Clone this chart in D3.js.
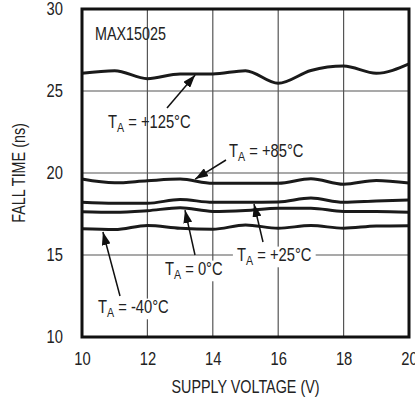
<!DOCTYPE html>
<html><head><meta charset="utf-8">
<script src="https://cdn.jsdelivr.net/npm/d3@7"></script>
<style>
body{margin:0;background:#fff;}
text{font-family:"Liberation Sans",Arial,sans-serif;fill:#222;}
</style></head><body>
<script>
const voltage = [10,11,12,13,14,15,16,17,18,19,20];
const t125 = [26.08,26.24,25.75,26.04,26.04,26.24,25.47,26.25,26.52,26.08,26.65];
const t85  = [19.63,19.4,19.53,19.63,19.37,19.37,19.37,19.65,19.31,19.55,19.39];
const t25  = [18.21,18.15,18.15,18.39,18.21,18.21,18.23,18.47,18.21,18.29,18.35];
const t0   = [17.64,17.6,17.7,17.88,17.66,17.72,17.85,17.85,17.66,17.66,17.6];
const tm40 = [16.6,16.55,16.8,16.63,16.57,16.83,16.63,16.8,16.63,16.77,16.79];
const xTicks = [10,12,14,16,18,20];
const yTicks = [10,15,20,25,30];
const seriesNames = ["+125°C","+85°C","+25°C","0°C","-40°C"];
const seriesValues = [t125,t85,t25,t0,tm40];

const S=0.82; // horizontal squeeze to imitate a condensed face
function squeeze(sel){
 sel.each(function(){
  const e=d3.select(this);
  const px=+e.attr("x")||0, py=+e.attr("y")||0;
  e.attr("transform",`translate(${px},${py}) scale(${S},1) translate(${-px},${-py})`);
 });
}

const W=415,H=400, m={l:82,t:9,r:6,b:63};
const svg=d3.select("body").append("svg").attr("width",W).attr("height",H);
const x=d3.scaleLinear().domain([10,20]).range([m.l,W-m.r]);
const y=d3.scaleLinear().domain([10,30]).range([H-m.b,m.t]);

const grid=svg.append("g");
grid.selectAll("line.v").data(xTicks.slice(1,-1)).join("line").attr("class","v")
 .attr("x1",d=>x(d)).attr("x2",d=>x(d)).attr("y1",y(30)).attr("y2",y(10))
 .attr("stroke","#555").attr("stroke-width",1.2);
grid.selectAll("line.h").data(yTicks.slice(1,-1)).join("line").attr("class","h")
 .attr("y1",d=>y(d)).attr("y2",d=>y(d)).attr("x1",x(10)).attr("x2",x(20))
 .attr("stroke","#555").attr("stroke-width",1.2);

const xAxis=d3.axisBottom(x).tickValues(xTicks).tickSize(0).tickPadding(15);
const gx=svg.append("g").attr("transform",`translate(0,${y(10)})`).call(xAxis);
gx.select(".domain").remove();
gx.selectAll("text").attr("font-size",18).style("font-family",'"Liberation Sans",Arial,sans-serif').attr("fill","#222").call(squeeze);
const yAxis=d3.axisLeft(y).tickValues(yTicks).tickSize(0).tickPadding(19);
const gy=svg.append("g").attr("transform",`translate(${x(10)},0)`).call(yAxis);
gy.select(".domain").remove();
gy.selectAll("text").attr("font-size",18).style("font-family",'"Liberation Sans",Arial,sans-serif').attr("fill","#222").call(squeeze);

svg.append("text").attr("x",(x(10)+x(20))/2).attr("y",393).attr("text-anchor","middle")
 .attr("font-size",17.5).text("SUPPLY VOLTAGE (V)").call(squeeze);
svg.append("text").attr("transform",`translate(25,${(y(10)+y(30))/2}) rotate(-90) scale(${S},1)`).attr("text-anchor","middle")
 .attr("font-size",17.5).text("FALL TIME (ns)");

const labels=svg.append("g");

const line=d3.line().x((d,i)=>x(voltage[i])).y(d=>y(d)).curve(d3.curveMonotoneX);
svg.append("g").selectAll("path").data(seriesValues).join("path")
 .attr("d",line).attr("fill","none").attr("stroke","#1a1a1a").attr("stroke-width",3);

svg.append("rect").attr("x",x(10)).attr("y",y(30)).attr("width",x(20)-x(10)).attr("height",y(10)-y(30))
 .attr("fill","none").attr("stroke","#111").attr("stroke-width",3);

svg.append("text").attr("x",95).attr("y",40).attr("font-size",17.5).text("MAX15025").call(squeeze);

svg.append("defs").append("marker").attr("id","ah").attr("viewBox","0 0 13 9").attr("refX",13).attr("refY",4.5)
 .attr("markerWidth",13).attr("markerHeight",9).attr("markerUnits","userSpaceOnUse").attr("orient","auto")
 .append("path").attr("d","M0,0 L13,4.5 L0,9 z").attr("fill","#111");
const arrows=[
 {from:[167,108], to:[13.46,25.98]},
 {from:[226,160], to:[13.46,19.63]},
 {from:[263,242], to:[15.26,18.11]},
 {from:[195,255], to:[13.15,17.74]},
 {from:[120,296], to:[10.64,16.4]}
];
svg.append("g").selectAll("line").data(arrows).join("line")
 .attr("x1",d=>d.from[0]).attr("y1",d=>d.from[1]).attr("x2",d=>x(d.to[0])).attr("y2",d=>y(d.to[1]))
 .attr("stroke","#111").attr("stroke-width",1.5).attr("marker-end","url(#ah)");

function label(xp,yp,name,bg){
 const g=labels.append("g").attr("transform",`translate(${xp},${yp}) scale(${S},1)`);
 const t=g.append("text").attr("x",0).attr("y",0).attr("font-size",18);
 t.append("tspan").text("T");
 t.append("tspan").attr("font-size",13).attr("dy",4).text("A");
 t.append("tspan").attr("dy",-4).text(" = "+name);
 if(bg){const b=t.node().getBBox();
  g.insert("rect",()=>t.node()).attr("x",b.x-5).attr("y",b.y+2).attr("width",b.width+10).attr("height",b.height-3).attr("fill","#fff");}
}
label(108,128,seriesNames[0]);
label(229,157,seriesNames[1]);
label(237,261,seriesNames[2],true);
label(165,275,seriesNames[3],true);
label(98,313,seriesNames[4],true);
</script></body></html>
